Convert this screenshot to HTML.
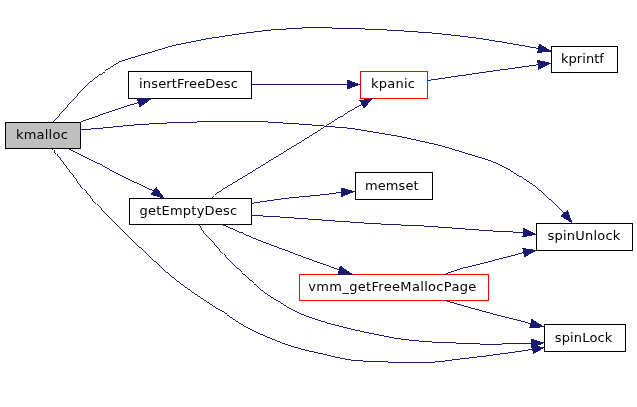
<!DOCTYPE html>
<html><head><meta charset="utf-8"><title>kmalloc call graph</title>
<style>html,body{margin:0;padding:0;background:#fff}svg{display:block;will-change:transform}text{font-family:"DejaVu Sans","Liberation Sans",sans-serif;font-size:13px;fill:#000}</style></head><body>
<svg width="637" height="407" viewBox="0 0 637 407">
<rect width="637" height="407" fill="#fff"/>
<rect x="5.5" y="122.5" width="75" height="26" fill="#bfbfbf" stroke="#000" stroke-width="1" shape-rendering="crispEdges"/>
<rect x="128.5" y="71.5" width="123" height="27" fill="#fff" stroke="#000" stroke-width="1" shape-rendering="crispEdges"/>
<rect x="129.5" y="198.5" width="122" height="26" fill="#fff" stroke="#000" stroke-width="1" shape-rendering="crispEdges"/>
<rect x="360.5" y="71.5" width="67" height="27" fill="#fff" stroke="#ff0000" stroke-width="1" shape-rendering="crispEdges"/>
<rect x="551.5" y="46.5" width="66" height="26" fill="#fff" stroke="#000" stroke-width="1" shape-rendering="crispEdges"/>
<rect x="355.5" y="172.5" width="77" height="27" fill="#fff" stroke="#000" stroke-width="1" shape-rendering="crispEdges"/>
<rect x="536.5" y="223.5" width="96" height="27" fill="#fff" stroke="#000" stroke-width="1" shape-rendering="crispEdges"/>
<rect x="299.5" y="274.5" width="189" height="26" fill="#fff" stroke="#ff0000" stroke-width="1" shape-rendering="crispEdges"/>
<rect x="544.5" y="324.5" width="81" height="27" fill="#fff" stroke="#000" stroke-width="1" shape-rendering="crispEdges"/>
<g fill="none" stroke="#191970" stroke-width="0.99" shape-rendering="crispEdges">
<path d="M53.3,122 C54.9,120.2 59.5,115.0 62.8,111.3 C66.1,107.6 68.7,104.5 72.9,100 C77.1,95.5 83.4,88.5 88,84.2 C92.6,79.9 95.5,77.7 100.5,74.1 C105.5,70.5 113.8,65.2 118,62.8 C122.2,60.4 118.6,62.0 125.6,59.8 C132.6,57.6 152.3,51.8 160,49.5 C167.7,47.2 167.8,47.0 172,46.0 C176.2,45.0 178.7,44.5 185,43.2 C191.3,41.9 200.3,40.0 210,38.4 C219.7,36.8 232.8,34.8 243,33.4 C253.2,32.0 263.8,30.7 271,30.0 C278.2,29.3 280.8,29.3 286,29.0 C291.2,28.7 296.8,28.2 302,28.0 C307.2,27.8 312.0,27.7 317,27.7 C322.0,27.7 324.0,27.8 332,28.0 C340.0,28.2 355.8,28.7 365,29.0 C374.2,29.3 380.5,29.7 387,30.0 C393.5,30.3 398.8,30.7 404,31.0 C409.2,31.3 413.3,31.7 418,32.0 C422.7,32.3 421.7,31.9 432,33.0 C442.3,34.1 462.2,36.0 480,38.6 C497.8,41.2 528.8,46.8 538.6,48.4"/>
<path d="M80,122.2 C86.7,119.9 110.2,111.5 120,108.3 C129.8,105.0 135.4,103.6 138.5,102.7"/>
<path d="M80,130.1 C81.9,129.9 87.5,129.3 91.3,129 C95.1,128.7 99.0,128.3 102.6,128 C106.2,127.7 109.3,127.3 112.7,127 C116.1,126.7 119.2,126.3 122.7,126 C126.2,125.7 129.6,125.3 134,125 C138.4,124.7 143.7,124.3 149.1,124 C154.5,123.7 158.8,123.3 166.7,123 C174.6,122.7 185.9,122.2 196.8,122 C207.7,121.8 220.2,121.6 232,121.6 C243.8,121.6 259.3,121.8 267.8,122 C276.3,122.2 277.8,122.7 283,123 C288.2,123.3 294.0,123.7 298.8,124 C303.6,124.3 307.8,124.7 312,125 C316.2,125.3 320.3,125.7 324.1,126 C327.9,126.3 331.2,126.7 335,127 C338.8,127.3 342.3,127.5 346.7,128 C351.1,128.5 356.9,129.3 361.3,130 C365.7,130.7 369.0,131.3 372.9,132 C376.8,132.7 380.0,133.2 384.9,134 C389.8,134.8 396.1,135.8 402,137 C407.9,138.2 414.0,139.7 420,141 C426.0,142.3 432.1,143.5 438,145 C443.9,146.5 449.7,148.3 455.3,150 C460.9,151.7 467.7,153.8 471.8,155 C475.9,156.2 476.5,156.4 480,157.5 C483.5,158.6 488.7,160.1 493,161.8 C497.3,163.5 501.2,165.2 505.6,167.6 C510.0,170.0 514.8,173.3 519.5,176.3 C524.2,179.3 529.1,181.8 534,185.5 C538.9,189.2 544.0,194.0 549,198.6 C554.0,203.2 561.8,210.9 564.3,213.3"/>
<path d="M68,148.5 C78.3,153.7 115.7,172.7 130,179.8 C144.3,186.9 149.8,189.1 153.7,191"/>
<path d="M52.6,148.5 C54.7,151.3 60.9,159.6 65.1,165.1 C69.3,170.6 73.5,176.3 77.7,181.5 C81.9,186.7 86.1,191.7 90.3,196.5 C94.5,201.3 98.6,205.9 102.8,210.4 C107.0,214.9 110.6,218.8 115.4,223.7 C120.2,228.6 126.7,234.9 131.7,239.7 C136.6,244.4 138.7,246.3 145.1,252.2 C151.5,258.1 161.9,268.3 170.3,275.3 C178.7,282.3 187.0,288.2 195.4,294.1 C203.8,300.0 212.2,305.2 220.5,310.6 C228.8,316.0 236.8,321.9 245.1,326.5 C253.4,331.1 261.9,334.8 270.3,338.3 C278.7,341.8 287.0,344.8 295.4,347.3 C303.8,349.9 312.1,351.6 320.5,353.6 C328.9,355.6 338.9,357.9 345.6,359.1 C352.3,360.3 355.0,360.5 360.7,360.9 C366.4,361.3 372.6,361.4 380,361.7 C387.4,362.0 396.7,362.4 405,362.5 C413.3,362.6 421.6,363.0 430,362.5 C438.4,362.0 447.0,360.6 455.4,359.6 C463.8,358.6 472.1,357.7 480.5,356.6 C488.9,355.6 496.9,354.5 505.6,353.3 C514.3,352.1 528.2,350.0 532.7,349.4"/>
<path d="M251,84.5 L347.5,84.5"/>
<path d="M212.3,198.2 C212.8,197.6 214.3,195.9 215.5,194.8 C216.7,193.7 217.6,192.7 219.5,191.4 C221.4,190.1 223.1,189.1 226.8,186.9 C230.5,184.7 233.6,183.0 241.6,178.1 C249.6,173.2 263.6,164.6 275,157.6 C286.4,150.6 298.9,143.1 310,136.2 C321.1,129.3 332.8,121.4 341.5,116.1 C350.2,110.8 358.6,106.2 362,104.2"/>
<path d="M251,203.4 C256.7,202.6 273.5,199.9 285,198.5 C296.5,197.1 310.6,196.0 320,195 C329.4,194.0 337.9,192.8 341.5,192.3"/>
<path d="M251,215.4 C252.9,215.5 257.7,215.7 262.6,216 C267.5,216.3 272.7,216.5 280.2,217 C287.7,217.5 298.6,218.3 307.8,219 C317.0,219.7 326.0,220.3 335.4,221 C344.8,221.7 356.8,222.5 364.3,223 C371.9,223.5 374.6,223.7 380.7,224 C386.8,224.3 393.8,224.7 401,225 C408.2,225.3 415.5,225.5 423.9,226 C432.3,226.5 442.4,227.3 451.6,228 C460.8,228.7 472.3,229.5 479.2,230 C486.1,230.5 487.4,230.7 493,231 C498.6,231.3 507.9,231.7 513,232 C518.1,232.3 521.7,232.5 523.4,232.6"/>
<path d="M222.2,224.5 C224.3,225.4 228.8,227.4 235.1,230.1 C241.4,232.8 251.9,237.6 260.3,240.9 C268.7,244.2 277.0,247.1 285.4,250.2 C293.8,253.3 302.1,256.6 310.5,259.7 C318.9,262.8 330.8,266.7 335.6,268.5 C340.4,270.3 338.5,270.0 339.1,270.3"/>
<path d="M199.9,224.5 C200.4,225.6 200.3,227.9 202.9,231.3 C205.5,234.7 210.5,239.7 215.5,245.1 C220.5,250.5 227.3,258.1 233.1,264 C238.9,269.9 245.1,275.6 250.5,280.5 C255.9,285.4 260.8,289.8 265.7,293.4 C270.6,297.0 275.1,299.3 280,302.3 C284.9,305.3 288.6,308.3 295.4,311.4 C302.1,314.5 312.1,318.3 320.5,321 C328.9,323.7 335.7,325.3 345.6,327.7 C355.5,330.1 370.1,333.3 380,335.3 C389.9,337.3 396.4,338.5 405.1,339.6 C413.8,340.7 423.8,341.4 432.3,342.0 C440.9,342.6 448.4,342.7 456.4,343.0 C464.3,343.3 474.2,343.8 480,344.0 C485.8,344.2 487.4,344.3 491,344.3 C494.6,344.3 494.8,344.1 501.6,344.0 C508.4,343.9 526.7,343.6 531.7,343.5"/>
<path d="M427,80.6 C435.3,79.4 458.4,75.9 477,73.3 C495.6,70.7 528.1,66.1 538.3,64.7"/>
<path d="M444.4,274.5 C447.0,273.6 454.1,270.8 460,269 C465.9,267.2 469.4,266.7 480,264 C490.6,261.3 516.4,254.5 523.7,252.6"/>
<path d="M445.3,300.5 C449.1,301.6 460.1,304.9 468,307.1 C475.9,309.3 484.6,311.7 493,313.9 C501.4,316.1 511.9,318.6 518.2,320.2 C524.5,321.8 528.7,323.1 530.8,323.7"/>
</g>
<g fill="#191970" stroke="none" shape-rendering="crispEdges">
<polygon points="552.0,51.4 537.0,53.1 539.2,43.5"/>
<polygon points="152.5,98.4 139.5,107.5 136.6,98.2"/>
<polygon points="572.7,223.7 560.2,216.0 567.8,209.8"/>
<polygon points="165.0,198.8 150.5,194.8 156.1,186.7"/>
<polygon points="544.8,347.5 533.0,354.3 531.5,344.6"/>
<polygon points="360.9,84.5 347.0,89.4 347.0,79.6"/>
<polygon points="373.1,98.2 363.9,108.7 359.2,100.1"/>
<polygon points="355.5,191.4 341.3,197.2 340.7,187.4"/>
<polygon points="537.3,234.5 522.3,237.4 523.6,227.7"/>
<polygon points="353.2,274.6 337.2,274.8 340.1,265.5"/>
<polygon points="544.8,342.8 531.5,348.4 530.9,338.6"/>
<polygon points="552.0,63.1 538.4,69.6 537.2,59.9"/>
<polygon points="537.1,250.1 524.1,257.5 522.3,247.9"/>
<polygon points="544.8,327.1 529.2,328.3 531.5,318.8"/>
</g>
<text x="15.90" y="139" textLength="51.90" lengthAdjust="spacing">kmalloc</text>
<text x="139.00" y="88" textLength="98.80" lengthAdjust="spacing">insertFreeDesc</text>
<text x="139.50" y="215" textLength="97.70" lengthAdjust="spacing">getEmptyDesc</text>
<text x="371.10" y="88" textLength="43.90" lengthAdjust="spacing">kpanic</text>
<text x="561.00" y="63" textLength="42.90" lengthAdjust="spacing">kprintf</text>
<text x="365.00" y="190" textLength="53.60" lengthAdjust="spacing">memset</text>
<text x="547.40" y="240" textLength="73.00" lengthAdjust="spacing">spinUnlock</text>
<text x="308.30" y="291" textLength="168.00" lengthAdjust="spacing">vmm_getFreeMallocPage</text>
<text x="554.80" y="342" textLength="57.50" lengthAdjust="spacing">spinLock</text>
</svg></body></html>
